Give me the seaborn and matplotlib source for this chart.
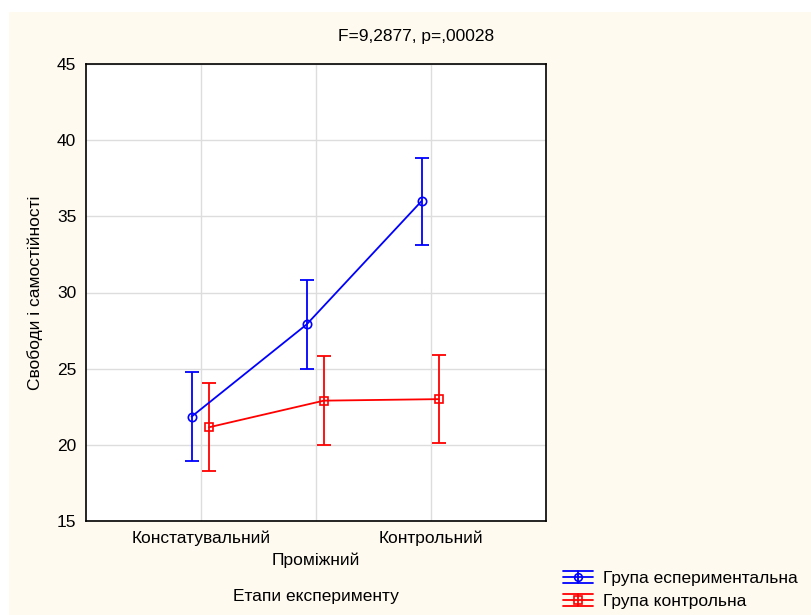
import numpy as np
import pandas as pd
import matplotlib
matplotlib.use("Agg")
import matplotlib.pyplot as plt
from matplotlib.patches import Rectangle
from matplotlib.lines import Line2D
from matplotlib.legend_handler import HandlerBase
import seaborn as sns

# Stages of the experiment and group means with confidence half-widths
stages = ["Констатувальний", "Проміжний", "Контрольний"]
groups = ["Група есперимeнтальна".replace("e", "\u0435"), "Група контрольна"]
exp_means = [21.85, 27.9, 36.0]
exp_err = [2.9, 2.9, 2.85]
ctrl_means = [21.15, 22.9, 23.0]
ctrl_err = [2.9, 2.9, 2.9]
title_text = "F=9,2877, p=,00028"
x_label = "Етапи експерименту"
y_label = "Свободи і самостійності"
y_ticks = [15, 20, 25, 30, 35, 40, 45]

colors = {groups[0]: "#0000FF", groups[1]: "#FF0000"}
markers = {groups[0]: "o", groups[1]: "s"}
dodge = {groups[0]: -0.082, groups[1]: 0.068}

FS = 12.5

sns.set_theme(style="white")
plt.rcParams["font.family"] = ["Liberation Sans", "DejaVu Sans"]
plt.rcParams["font.size"] = FS


class ErrorbarKey(HandlerBase):
    """Legend key: line with marker, vertical bar and caps spanning the key."""

    def create_artists(self, legend, orig_handle, xdescent, ydescent,
                       width, height, fontsize, trans):
        c = orig_handle.get_color()
        m = orig_handle.get_marker()
        x0, x1 = -xdescent, width - xdescent
        xc = (x0 + x1) / 2
        yc = height / 2 - ydescent
        d = 4.3
        lw = 1.3
        arts = [
            Line2D([x0, x1], [yc, yc], color=c, lw=lw),
            Line2D([x0, x1], [yc + d, yc + d], color=c, lw=lw),
            Line2D([x0, x1], [yc - d, yc - d], color=c, lw=lw),
            Line2D([xc, xc], [yc - d, yc + d], color=c, lw=lw),
            Line2D([xc], [yc], marker=m, markersize=5.5, markerfacecolor="none",
                   markeredgecolor=c, markeredgewidth=1.2, linestyle="none"),
        ]
        for a in arts:
            a.set_transform(trans)
        return arts


rows = []
for g, means, errs in [(groups[0], exp_means, exp_err), (groups[1], ctrl_means, ctrl_err)]:
    for i, (m, e) in enumerate(zip(means, errs)):
        rows.append({"stage": stages[i], "pos": i + 1 + dodge[g], "group": g,
                     "mean": m, "err": e})
df = pd.DataFrame(rows)

fig = plt.figure(figsize=(8.11, 6.15), dpi=100, facecolor="white")
# cream panel behind the chart
fig.patches.append(Rectangle((9 / 811, 0), 1, 1 - 12 / 615, transform=fig.transFigure,
                             facecolor="#FFFAF0", edgecolor="none", zorder=-10))

ax = fig.add_axes([86 / 811, 1 - 521 / 615, 460 / 811, 457 / 615])
ax.set_facecolor("white")

handles = []
for g in groups:
    sub = df[df["group"] == g]
    ax.errorbar(sub["pos"], sub["mean"], yerr=sub["err"], fmt="none",
                ecolor=colors[g], elinewidth=1.3, capsize=5, capthick=1.3,
                zorder=3)
    sns.lineplot(data=sub, x="pos", y="mean", ax=ax, color=colors[g],
                 marker=markers[g], markersize=6, markerfacecolor="none",
                 markeredgecolor=colors[g], markeredgewidth=1.2,
                 linewidth=1.3, legend=False, zorder=4)
    handles.append(ax.lines[-1])

ax.set_xlim(0, 4)
ax.set_ylim(15, 45)
ax.set_yticks(y_ticks)
ax.set_xticks([1, 2, 3])
ax.set_xticklabels(stages)
ax.grid(True, color="#DDDDDD", linewidth=1.0)
ax.set_axisbelow(True)
for s in ax.spines.values():
    s.set_color("black")
    s.set_linewidth(1.2)
ax.tick_params(axis="both", direction="in", length=4, width=1, color="black",
               labelsize=FS, labelcolor="black")
ax.tick_params(axis="x", pad=7)
ax.tick_params(axis="y", pad=7)
ax.xaxis.get_major_ticks()[1].set_pad(23)
ax.set_xlabel("")
ax.set_ylabel(y_label, fontsize=FS, color="black")
ax.yaxis.set_label_coords(-0.093, 0.5)

fig.text(316 / 811, 1 - 597 / 615, x_label, ha="center", va="center",
         fontsize=FS, color="black")
fig.text(416 / 811, 1 - 36 / 615, title_text, ha="center", va="center",
         fontsize=FS, color="black")

leg = fig.legend(handles, groups, loc="center left",
                 bbox_to_anchor=(563 / 811, 1 - 590 / 615),
                 frameon=False, fontsize=FS, handlelength=1.75,
                 handletextpad=0.55, labelspacing=0.45, borderaxespad=0,
                 borderpad=0,
                 handler_map={h: ErrorbarKey() for h in handles})
for t in leg.get_texts():
    t.set_color("black")

fig.savefig("out.png", dpi=100, facecolor=fig.get_facecolor())
